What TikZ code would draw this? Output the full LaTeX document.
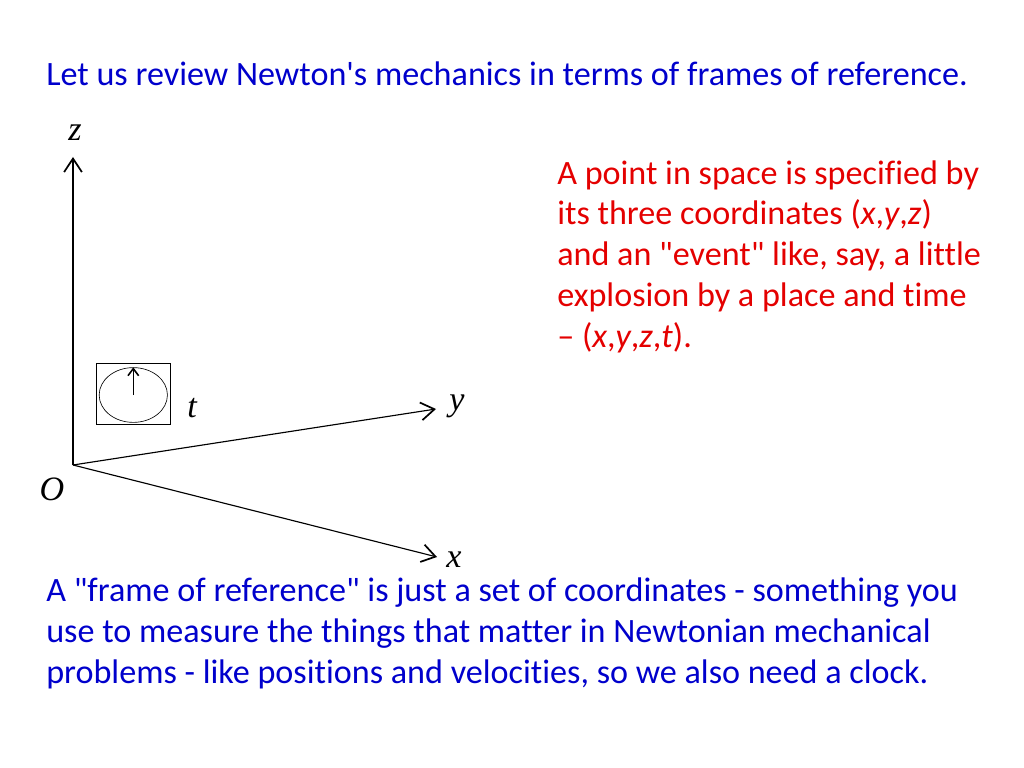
\documentclass[tikz,border=0pt]{standalone}
\usepackage{fontspec}
\setmainfont{Carlito}[Ligatures=NoCommon]
\newfontfamily\axisfont{Liberation Serif}
\usetikzlibrary{arrows.meta,shapes.geometric}
\definecolor{slideblue}{RGB}{0,0,204}
\definecolor{slidered}{RGB}{228,0,0}
\tikzset{
  axis/.style = { line width=0.8pt, -{Straight Barb[length=9.5pt,width=12.5pt,line width=1.2pt]} },
  hand/.style = { line width=0.6pt, -{Straight Barb[length=5pt,width=7.5pt,line width=1.1pt]} },
  axislabel/.style = { font=\axisfont\itshape\fontsize{24}{28}\selectfont, inner sep=0pt },
  slidetext/.style = { font=\fontsize{24}{28.6}\selectfont, align=left, inner sep=0pt, anchor=base west },
}

\begin{document}
\begin{tikzpicture}[x=0.703125pt, y=-0.703125pt]
  \useasboundingbox (0,0) rectangle (1024,768);
  \node [slidetext, text=slideblue] (title) at (46,86)
    {Let us review Newton\textquotesingle s mechanics in terms of frames of reference.};
  % base is the last line
  \node [slidetext, text=slidered] (point) at (557,347)
    {A point in space is specified by\\
     its three coordinates (\textit{x},\textit{y},\textit{z})\\
     and an \textquotedbl event\textquotedbl{} like, say, a little\\
     explosion by a place and time\\
     – (\textit{x},\textit{y},\textit{z},\textit{t}).};
  \node [slidetext, text=slideblue] (frame) at (46,683)
    {A \textquotedbl frame of reference\textquotedbl{} is just a set of coordinates - something you\\
     use to measure the things that matter in Newtonian mechanical\\
     problems - like positions and velocities, so we also need a clock.};
  % axes
  \coordinate (O) at (73,465);
  \coordinate (ztip) at (73,157);
  \coordinate (ytip) at (436,409);
  \coordinate (xtip) at (437,557);
  \node [axislabel] (zlabel) at (75,133) {z};
  \node [axislabel] (ylabel) at (457,406) {y};
  \node [axislabel] (xlabel) at (454,560) {x};
  \node [axislabel] (Olabel) at (52,489) {O};
  \node [axislabel] (tlabel) at (192,408) {t};
  \draw [axis] (O) -- (ztip);
  \draw [axis] (O) -- (ytip);
  \draw [axis] (O) -- (xtip);
  % clock
  \node [draw, line width=0.6pt, minimum width=51.5pt, minimum height=43.4pt] (clock) at (133.5,394) {};
  \node [draw, ellipse, line width=0.45pt, minimum width=48pt, minimum height=38.5pt] (dial) at (133.3,395) {};
  \draw [hand] (dial.center) -- (dial.north);
\end{tikzpicture}
\end{document}
